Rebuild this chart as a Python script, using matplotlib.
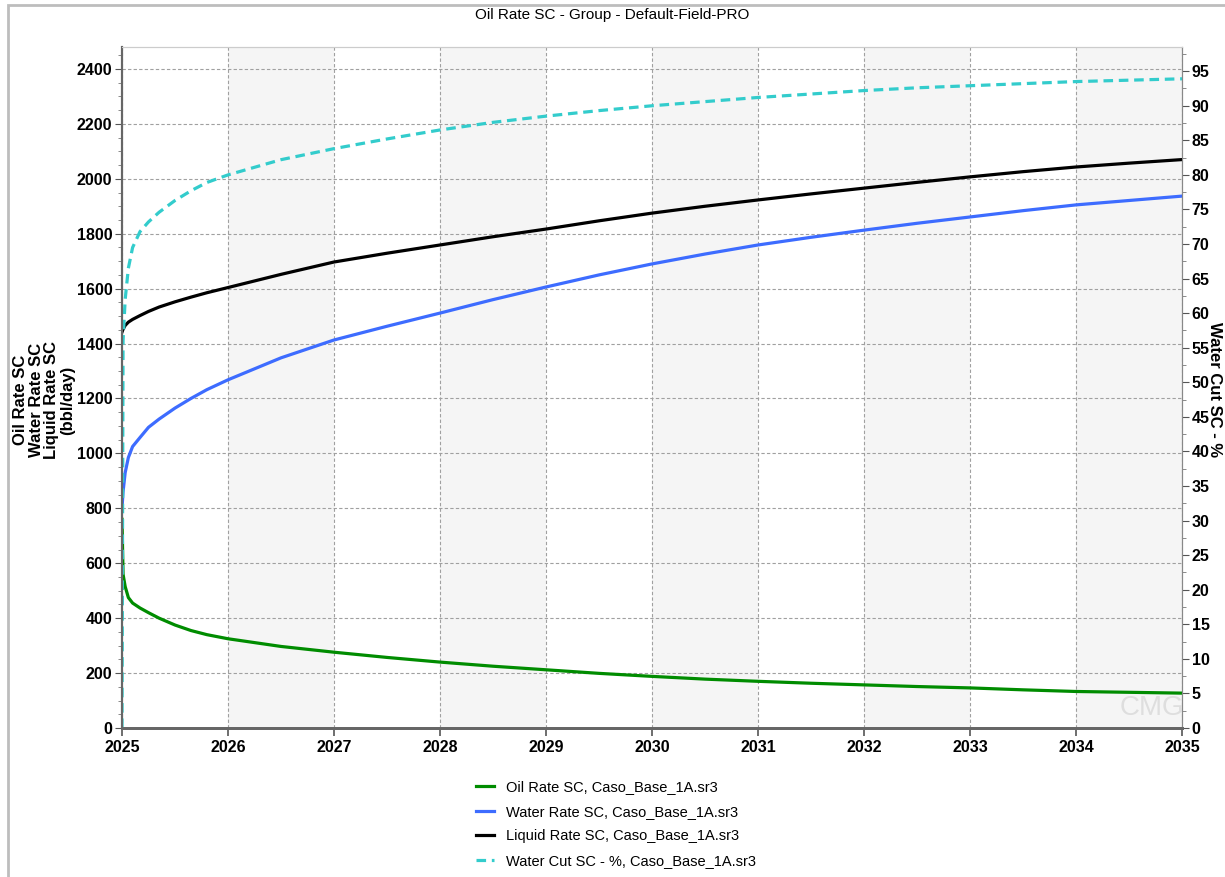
import matplotlib
matplotlib.use('Agg')
import matplotlib.pyplot as plt
from matplotlib.patches import Rectangle
from matplotlib.ticker import MultipleLocator
from matplotlib.font_manager import FontProperties

# time in decimal years
years = [2025.0, 2025.01, 2025.03, 2025.06, 2025.1, 2025.17, 2025.25, 2025.35, 2025.5, 2025.65, 2025.8, 2026.0,
         2026.5, 2027.0, 2027.5, 2028.0, 2028.5, 2029.0, 2029.5, 2030.0, 2030.5, 2031.0, 2031.5, 2032.0,
         2032.5, 2033.0, 2033.5, 2034.0, 2034.5, 2035.0]
water_cut = [0, 56, 62, 66.5, 69.5, 71.8, 73.2, 74.6, 76.3, 77.7, 78.9, 80.0,
             82.2, 83.8, 85.2, 86.5, 87.6, 88.5, 89.3, 90.0, 90.6, 91.2, 91.7, 92.2,
             92.6, 92.9, 93.2, 93.5, 93.7, 93.9]
oil_rate = [760, 560, 515, 475, 455, 437, 420, 400, 375, 355, 340, 325,
            297, 276, 257, 240, 225, 212, 199, 188, 178, 170, 163, 157,
            151, 146, 139, 133, 130, 127]
water_rate = [800, 860, 930, 985, 1025, 1058, 1095, 1125, 1165, 1200, 1232, 1268,
              1348, 1413, 1463, 1511, 1560, 1606, 1650, 1690, 1726, 1759, 1787, 1813,
              1838, 1861, 1884, 1905, 1921, 1937]
liquid_rate = [1442, 1452, 1466, 1478, 1488, 1502, 1517, 1533, 1552, 1569, 1585, 1604,
               1652, 1697, 1729, 1759, 1789, 1817, 1847, 1875, 1900, 1923, 1945, 1966,
               1987, 2007, 2026, 2043, 2057, 2070]

tick_years = list(range(2025, 2036))
labels = ['Oil Rate SC, Caso_Base_1A.sr3', 'Water Rate SC, Caso_Base_1A.sr3',
          'Liquid Rate SC, Caso_Base_1A.sr3', 'Water Cut SC - %, Caso_Base_1A.sr3']

plt.rcParams['font.family'] = ['Liberation Sans', 'DejaVu Sans']
tick_fp = FontProperties(family=['Liberation Sans Narrow', 'Liberation Sans'], weight='bold', size=11.5)

fig = plt.figure(figsize=(12.25, 8.77), dpi=100)
# frame: only left and top edges are visible in the picture
fig.patches.append(Rectangle((8 / 1225, -0.05), 1.1, 1 - 5 / 877 + 0.05, transform=fig.transFigure,
                             fill=False, edgecolor='#bdbdbd', linewidth=2))

ax = fig.add_axes([122 / 1225, 149 / 877, 1060 / 1225, 681 / 877])
ax2 = ax.twinx()

# alternating shaded bands
for y0 in tick_years[1:-1:2]:
    ax.axvspan(y0, y0 + 1, color='#f5f5f5', zorder=0, lw=0)

ax.grid(True, color='#a0a0a0', linestyle=(0, (3, 2)), linewidth=0.8)
ax.set_axisbelow(True)

l1, = ax.plot(years, oil_rate, color='#008c00', lw=2.3, label=labels[0], zorder=3)
l2, = ax.plot(years, water_rate, color='#3d6cff', lw=2.3, label=labels[1], zorder=3)
l3, = ax.plot(years, liquid_rate, color='black', lw=2.3, label=labels[2], zorder=3)
l4, = ax2.plot(years, water_cut, color='#33cccc', lw=2.3, ls=(0, (3, 1.8)), label=labels[3])

ax.set_xlim(2025, 2035)
ax.set_ylim(0, 2480)
ax2.set_ylim(0, 98.5)

ax.set_xticks(tick_years)
ax.set_xticklabels([str(y) for y in tick_years])
ax.yaxis.set_major_locator(MultipleLocator(200))
ax.yaxis.set_minor_locator(MultipleLocator(50))
ax2.yaxis.set_major_locator(MultipleLocator(5))
ax2.yaxis.set_minor_locator(MultipleLocator(2.5))
for lab in ax.get_xticklabels() + ax.get_yticklabels() + ax2.get_yticklabels():
    lab.set_fontproperties(tick_fp)

ax.tick_params(axis='x', length=6, width=1.2, color='#555555', pad=3)
ax.tick_params(axis='y', which='major', length=5, color='#555555', pad=2)
ax.tick_params(axis='y', which='minor', length=3, color='#777777')
ax2.tick_params(axis='y', which='major', length=5, color='#555555', pad=2)
ax2.tick_params(axis='y', which='minor', length=3, color='#777777')

for a in (ax, ax2):
    a.spines['top'].set_color('#cccccc')
    a.spines['left'].set_color('#666666')
    a.spines['right'].set_color('#888888')
    a.spines['bottom'].set_color('#666666')
    a.spines['bottom'].set_linewidth(2)
    a.spines['left'].set_linewidth(1.5)

fig.text(612 / 1225, 1 - 15 / 877, 'Oil Rate SC - Group - Default-Field-PRO', ha='center', va='center',
         fontsize=11)
fig.text(44 / 1225, 1 - 400 / 877, 'Oil Rate SC\nWater Rate SC\nLiquid Rate SC\n(bbl/day)', rotation=90,
         ha='center', va='center', fontsize=12, fontweight='bold', linespacing=1.05)
fig.text(1215 / 1225, 1 - 390 / 877, 'Water Cut SC - %', rotation=-90, ha='center', va='center',
         fontsize=12, fontweight='bold')

ax.text(2034.72, 25, 'CMG', color='#dedede', fontsize=20, ha='center', va='bottom', zorder=1)

fig.legend(handles=[l1, l2, l3, l4], loc='upper center', bbox_to_anchor=(0.503, 1 - 767 / 877),
           frameon=False, fontsize=10.5, handlelength=1.25, handletextpad=0.8, labelspacing=0.72)

fig.savefig('out.png', dpi=100)
